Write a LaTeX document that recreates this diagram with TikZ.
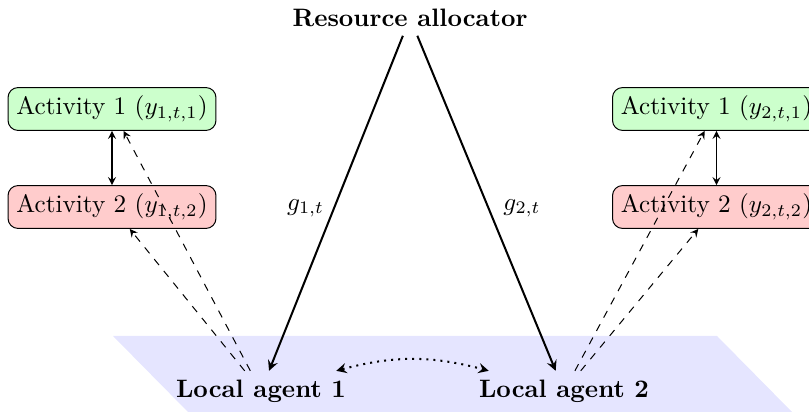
\documentclass[tikz,border=0pt]{standalone}
\usetikzlibrary{arrows}
\begin{document}
\begin{tikzpicture}[x=0.3968pt,y=-0.3968pt,>=stealth,
  actgreen/.style={draw,rounded corners=4pt,fill=green!20,inner sep=3.33pt},
  actred/.style={draw,rounded corners=4pt,fill=red!20,inner sep=3.33pt},
  agent/.style={font=\bfseries,inner sep=3.33pt},
  alloc/.style={->,thick},
  act/.style={->,dashed},
  link/.style={<->},
  peer/.style={<->,dotted,thick}]
\useasboundingbox (0,0) rectangle (809,412);
\fill[blue!10] (113,336) -- (717,336) -- (792,412) -- (188,412) -- cycle;
\node[agent] (ra) at (410,18) {Resource allocator};
\node[agent] (la1) at (261,391) {Local agent 1};
\node[agent] (la2) at (564,391) {Local agent 2};
\node[actgreen] (a11) at (112,109) {Activity 1 ($y_{1,t,1}$)};
\node[actred] (a12) at (112,207) {Activity 2 ($y_{1,t,2}$)};
\node[actgreen] (a21) at (716.5,109) {Activity 1 ($y_{2,t,1}$)};
\node[actred] (a22) at (716.5,207) {Activity 2 ($y_{2,t,2}$)};
\draw[alloc] (ra) -- node[midway,left,xshift=-1pt,yshift=-2pt] {$g_{1,t}$} (la1);
\draw[alloc] (ra) -- node[midway,right,xshift=3pt,yshift=-2pt] {$g_{2,t}$} (la2);
\draw[link] (a11) -- (a12);
\draw[link] (a21) -- (a22);
\draw[act] (la1) -- (a11);
\draw[act] (la1) -- (a12);
\draw[act] (la2) -- (a21);
\draw[act] (la2) -- (a22);
\draw[peer] (la1) to[bend left=15] (la2);
\end{tikzpicture}
\end{document}
